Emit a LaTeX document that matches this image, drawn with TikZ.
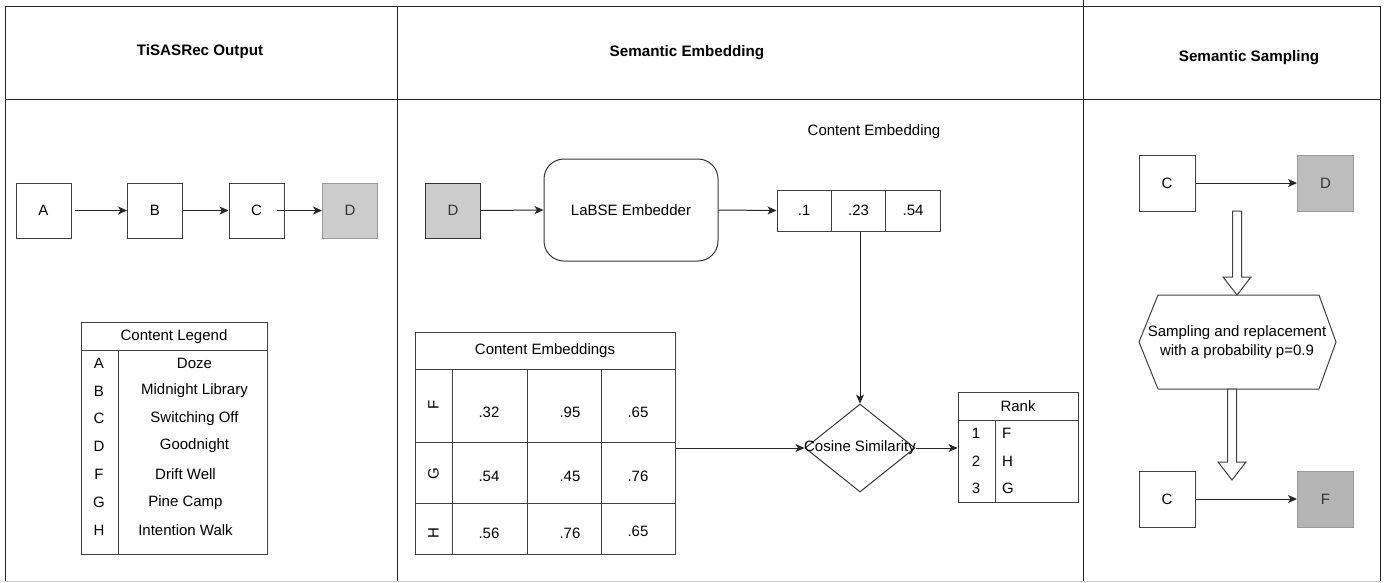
\documentclass[tikz,border=0pt]{standalone}
\usepackage{fontspec}
\setmainfont{Liberation Sans}
\usetikzlibrary{shapes.geometric,arrows.meta,calc}
\begin{document}
\begin{tikzpicture}[x=1pt,y=-1pt,
  every node/.style={font=\fontsize{15}{19}\selectfont, text=black},
  sq/.style={draw=black!75, line width=1pt, minimum width=55pt, minimum height=55pt, inner sep=0pt},
  gsq/.style={sq, fill=black!20, text=black!80},
  cell/.style={draw=black!75, line width=1pt, minimum width=54.4pt, minimum height=41pt, inner sep=0pt},
  arr/.style={-{Stealth[length=9pt,width=8pt,inset=2.5pt]}, line width=1pt, draw=black!85},
  frame/.style={line width=1pt, draw=black!85},
  tbl/.style={draw=black!75, line width=1pt},
  titletext/.style={font=\fontsize{15.2}{18}\selectfont\bfseries},
]
\useasboundingbox (0,0) rectangle (1385,582);
% frame
\draw[frame] (5,6) -- (1380,6);
\draw[frame] (5,99) -- (1380,99);
\draw[frame] (5,6) -- (5,581);
\draw[frame] (397,6) -- (397,581);
\draw[frame] (1083,0) -- (1083,582);
\draw[frame] (1380,6) -- (1380,581);
\draw[black!20, line width=0.8pt] (5,581) -- (1380,581);
% titles
\node[titletext] (t1) at (200,52) {TiSASRec Output};
\node[titletext] (t2) at (687,53) {Semantic Embedding};
\node[titletext] (t3) at (1249,58) {Semantic Sampling};

% ---- column 1 ----
\node[sq] (a) at (43.5,210.5) {A};
\node[sq] (b) at (155,210.5) {B};
\node[sq] (c) at (256.5,210.5) {C};
\node[gsq, draw=black!40] (d) at (350,210.5) {D};
\draw[arr] ([xshift=3pt]a.east) -- (b.west);
\draw[arr] (b.east) -- (c.west);
\draw[arr] ([xshift=-8pt]c.east) -- (d.west);

% legend table
\node[tbl, minimum width=186pt, minimum height=232pt, inner sep=0pt] (leg) at (174,438) {};
\draw[tbl] (81,350.5) -- (267,350.5);
\draw[tbl] (118.5,350.5) -- (118.5,554);
\node (lh) at (174,336.5) {Content Legend};
\node (l1) at (99,363) {A};   \node (n1) at (194.5,363) {Doze};
\node (l2) at (99,391) {B};   \node (n2) at (194.5,391) {Midnight Library};
\node (l3) at (99,418.5) {C}; \node (n3) at (194.5,418.5) {Switching Off};
\node (l4) at (99,446) {D};   \node (n4) at (194.5,446) {Goodnight};
\node (l5) at (99,474.5) {F}; \node (n5) at (185.5,474.5) {Drift Well};
\node (l6) at (99,502.5) {G}; \node (n6) at (185.5,502.5) {Pine Camp};
\node (l7) at (99,530) {H};   \node (n7) at (185.5,530) {Intention Walk};

% ---- column 2 ----
\node[gsq, draw=black!80] (d2) at (453,210.5) {D};
\node[draw=black!80, line width=1pt, rounded corners=20pt, minimum width=174pt, minimum height=102pt] (lab) at (631,210) {LaBSE Embedder};
\node[cell] (v1) at (804.2,210.5) {.1};
\node[cell] (v2) at (858.6,210.5) {.23};
\node[cell] (v3) at (913,210.5) {.54};
\node (ce) at (874,132) {Content Embedding};
\draw[arr] (d2.east) -- (lab.west);
\draw[arr] (lab.east) -- (v1.west);

% content embeddings table
\node[tbl, minimum width=260pt, minimum height=222pt, inner sep=0pt] (emb) at (545,443) {};
\draw[tbl] (415,369) -- (675,369);
\draw[tbl] (415,442) -- (675,442);
\draw[tbl] (415,503) -- (675,503);
\draw[tbl] (452,369) -- (452,554);
\draw[tbl] (527,369) -- (527,554);
\draw[tbl] (601,369) -- (601,554);
\node (eh) at (545,351) {Content Embeddings};
\node[rotate=90] (rf) at (433.5,405) {F};
\node[rotate=90] (rg) at (433.5,474) {G};
\node[rotate=90] (rh) at (433.5,533) {H};
\node (e11) at (489,412) {.32}; \node (e12) at (570,412) {.95}; \node (e13) at (638,412) {.65};
\node (e21) at (489,476) {.54}; \node (e22) at (570,476) {.45}; \node (e23) at (638,476) {.76};
\node (e31) at (489,533) {.56}; \node (e32) at (570,533) {.76}; \node (e33) at (638,531) {.65};

% cosine similarity
\node[diamond, draw=black!80, line width=1pt, minimum width=110pt, minimum height=88pt, inner sep=0pt,
      label={[font=\fontsize{15}{18}\selectfont]center:Cosine Similarity}] (cos) at (860,448) {};
\draw[arr] (cos.north |- v2.south) -- (cos.north);
\draw[arr] (emb.east |- cos.west) -- (cos.west);

% rank table
\node[tbl, minimum width=120pt, minimum height=110pt, inner sep=0pt] (rank) at (1018,447) {};
\draw[tbl] (958,420) -- (1078,420);
\draw[tbl] (995,420) -- (995,502);
\node (rk) at (1018,406) {Rank};
\node (r1) at (976,433) {1}; \node[anchor=west, inner sep=0pt] (s1) at (1002,433) {F};
\node (r2) at (976,461) {2}; \node[anchor=west, inner sep=0pt] (s2) at (1002,461) {H};
\node (r3) at (976,488) {3}; \node[anchor=west, inner sep=0pt] (s3) at (1002,488) {G};
\draw[arr] (cos.east) -- (cos.east -| rank.west);

% ---- column 3 ----
\node[sq, minimum width=56pt, minimum height=56pt] (c3) at (1167,183) {C};
\node[gsq, fill=black!26, draw=black!40, minimum width=56pt, minimum height=56pt] (d3) at (1325.5,183) {D};
\node[sq, minimum width=56pt, minimum height=56pt] (c4) at (1167,499) {C};
\node[gsq, fill=black!29, draw=black!40, minimum width=56pt, minimum height=56pt] (f4) at (1325.5,499) {F};
\draw[arr] (c3.east) -- (d3.west);
\draw[arr] (c4.east) -- (f4.west);

% sampling hexagon
\draw[tbl, fill=white] (1139,342) -- (1158,295) -- (1319,295) -- (1336,342) -- (1319,389) -- (1158,389) -- cycle;
\node[align=center] (samp) at (1237,342.5) {Sampling and replacement\\with a probability p=0.9};

% hollow block arrows
\draw[tbl, fill=white] (1232.5,211) -- (1241.5,211) -- (1241.5,277) -- (1251,277) -- (1237,295) -- (1223,277) -- (1232.5,277) -- cycle;
\draw[tbl, fill=white] (1227.5,389) -- (1236.5,389) -- (1236.5,462) -- (1246,462) -- (1232,480) -- (1218,462) -- (1227.5,462) -- cycle;
\end{tikzpicture}
\end{document}
